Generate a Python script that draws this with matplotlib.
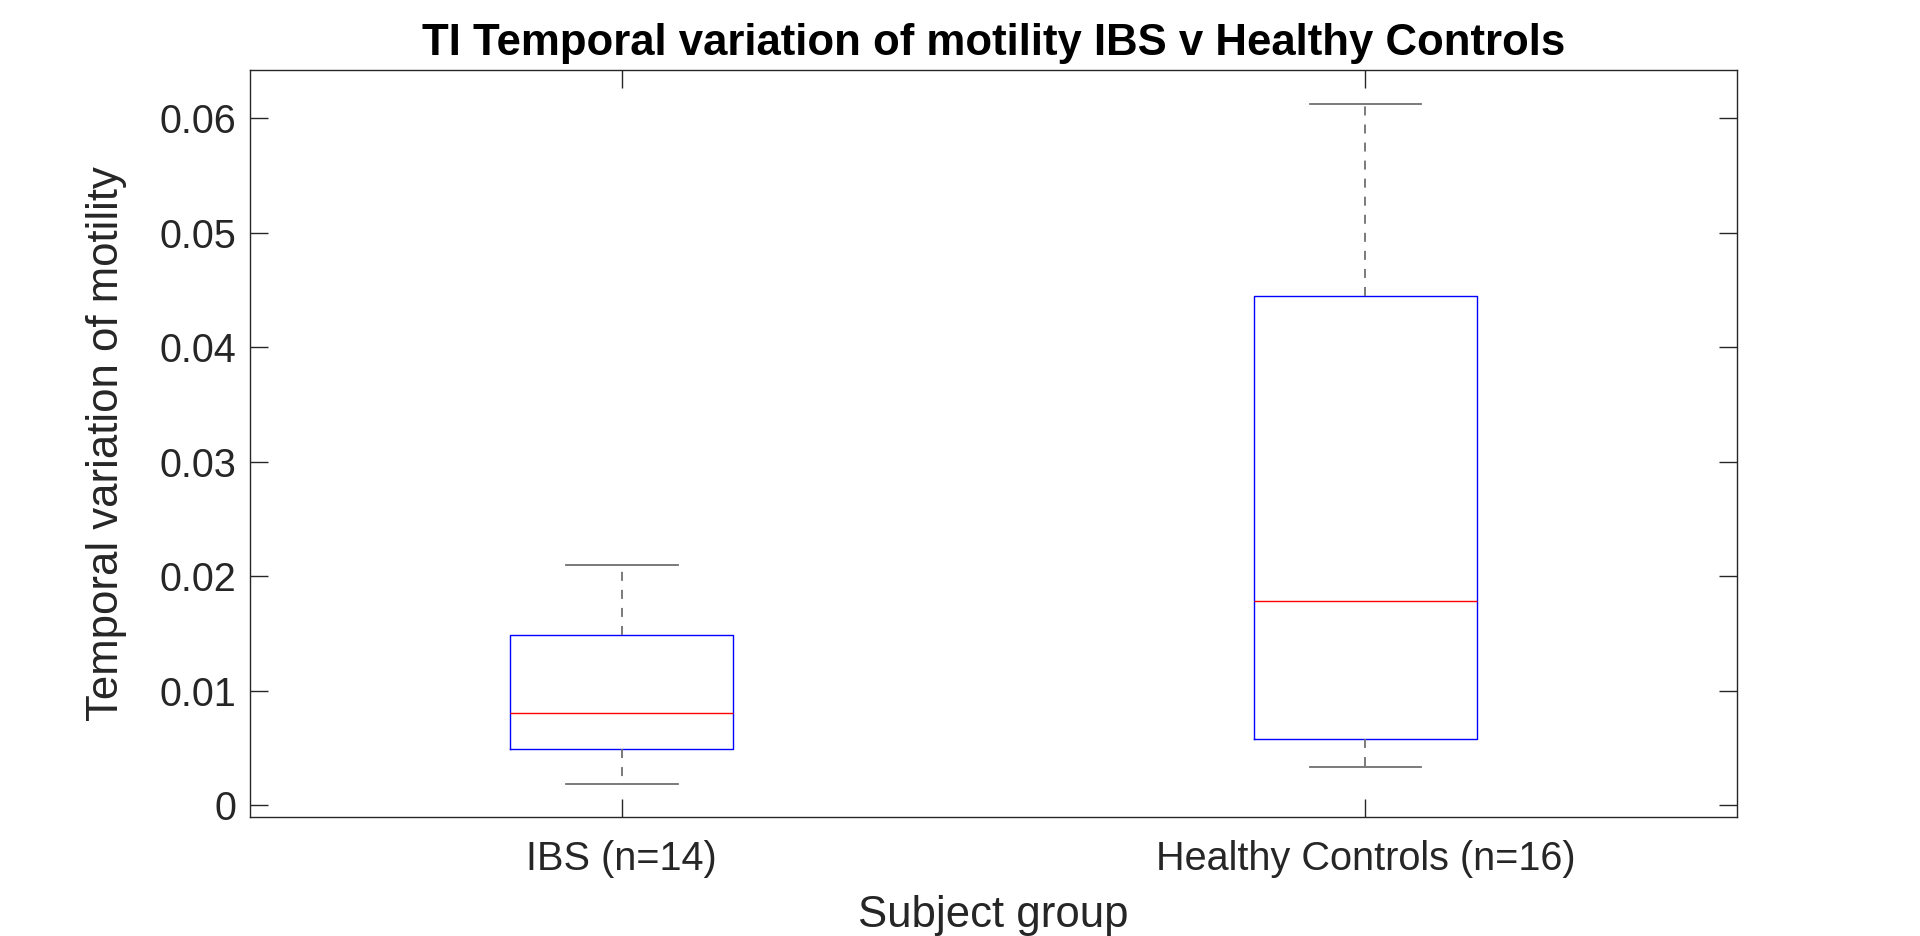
import matplotlib
matplotlib.use('Agg')
import matplotlib.pyplot as plt

# box statistics
groups = ['IBS (n=14)', 'Healthy Controls (n=16)']
whisker_low = [0.00183, 0.00335]
q1 = [0.00489, 0.00579]
medians = [0.00806, 0.01782]
q3 = [0.01485, 0.04447]
whisker_high = [0.02097, 0.06125]
y_ticks = [0, 0.01, 0.02, 0.03, 0.04, 0.05, 0.06]
y_tick_labels = ['0', '0.01', '0.02', '0.03', '0.04', '0.05', '0.06']

plt.rcParams['font.family'] = ['Liberation Sans', 'DejaVu Sans']

fig = plt.figure(figsize=(19.2, 9.36), dpi=100)
ax = fig.add_axes([250 / 1920, 1 - 817.3 / 936, (1737.3 - 250) / 1920, (817.3 - 70.3) / 936])

stats = []
for i, g in enumerate(groups):
    stats.append({'label': g, 'whislo': whisker_low[i], 'q1': q1[i], 'med': medians[i],
                  'q3': q3[i], 'whishi': whisker_high[i], 'fliers': []})

ax.bxp(stats, positions=[1, 2], widths=0.3, showfliers=False,
       boxprops=dict(color='#0000ff', linewidth=1.0),
       medianprops=dict(color='#ff0000', linewidth=1.0),
       whiskerprops=dict(color='#707070', linewidth=1.3, linestyle=(0, (5, 5))),
       capprops=dict(color='#707070', linewidth=1.3))

ax.set_xlim(0.5, 2.5)
ax.set_ylim(-0.00107, 0.0642)
ax.set_xticks([1, 2])
ax.set_xticklabels(groups)
ax.set_yticks(y_ticks)
ax.set_yticklabels(y_tick_labels)

ax.tick_params(direction='in', length=13, width=1.0, colors='#262626',
               labelsize=28.5, top=True, right=True, pad=10)
ax.tick_params(axis='x', pad=16.5)
for s in ax.spines.values():
    s.set_color('#262626')
    s.set_linewidth(1.0)

ax.set_title('TI Temporal variation of motility IBS v Healthy Controls',
             fontsize=31.5, fontweight='bold', color='black', pad=11)
ax.set_xlabel('Subject group', fontsize=31.5, color='#262626', labelpad=12)
ax.set_ylabel('Temporal variation of motility', fontsize=31.5, color='#262626', labelpad=23)

fig.savefig('out.png', dpi=100, facecolor='white')
